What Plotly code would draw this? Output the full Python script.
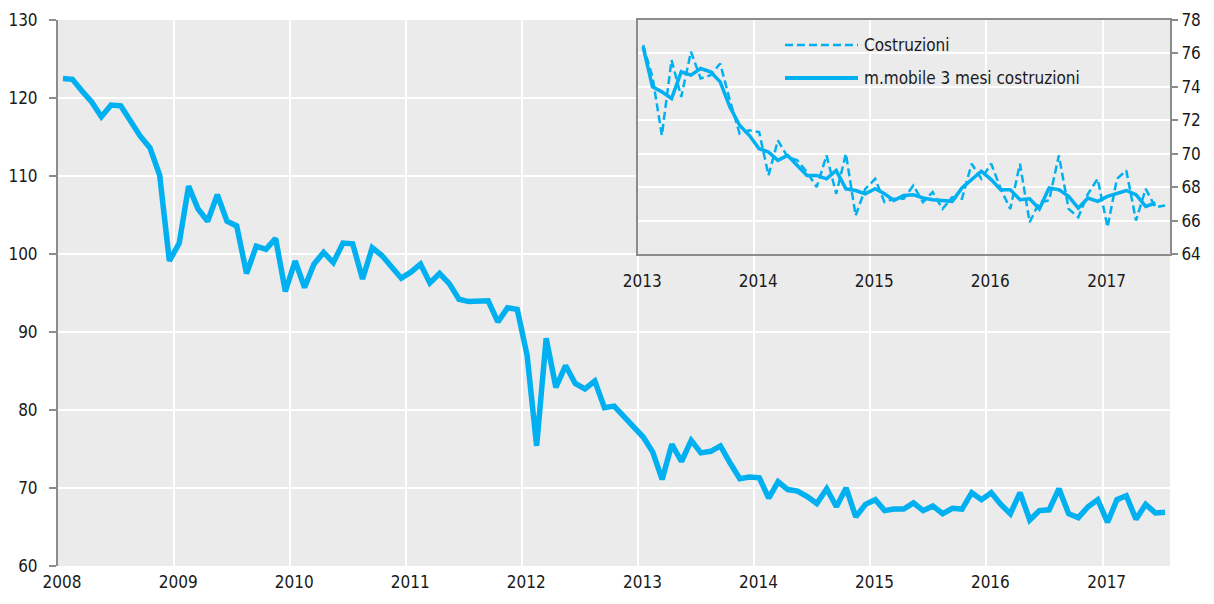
import plotly.graph_objects as go

# ---------------- data ----------------
start_year = 2008
n_months = 115  # Jan 2008 .. Jul 2017
months = [f"{start_year + k // 12}-{k % 12 + 1:02d}" for k in range(n_months)]

costruzioni = [
    122.5, 122.4, 120.9, 119.5, 117.6, 119.1, 119.0, 117.1, 115.1, 113.6, 110.1, 99.1,   # 2008
    101.4, 108.7, 105.8, 104.2, 107.6, 104.2, 103.6, 97.5, 101.0, 100.6, 102.0, 95.2,    # 2009
    99.1, 95.7, 98.7, 100.2, 98.9, 101.4, 101.3, 96.8, 100.8, 99.8, 98.3, 96.9,          # 2010
    97.7, 98.7, 96.3, 97.5, 96.2, 94.2, 93.9, 94.0, 94.0, 91.3, 93.1, 92.9,              # 2011
    87.0, 75.4, 89.2, 82.9, 85.7, 83.4, 82.7, 83.7, 80.3, 80.5, 79.1, 77.8,              # 2012
    76.5, 74.6, 71.1, 75.6, 73.4, 76.1, 74.5, 74.7, 75.4, 73.2, 71.2, 71.4,              # 2013
    71.3, 68.7, 70.8, 69.8, 69.6, 68.9, 68.0, 69.9, 67.6, 70.0, 66.3, 67.9,              # 2014
    68.5, 67.1, 67.3, 67.3, 68.1, 67.1, 67.7, 66.7, 67.4, 67.3, 69.4, 68.5,              # 2015
    69.4, 67.9, 66.7, 69.4, 65.9, 67.1, 67.2, 69.9, 66.7, 66.2, 67.6, 68.5,              # 2016
    65.6, 68.5, 69.0, 66.0, 67.9, 66.8, 66.9,                                            # 2017
]

inset_start = 60  # Jan 2013
mm3_costruzioni = [
    76.4, 74.0, 73.7, 73.3, 74.9, 74.7, 75.1, 74.9, 74.3, 72.8, 71.7, 71.1,              # 2013
    70.3, 70.1, 69.6, 69.9, 69.3, 68.7, 68.7, 68.5, 69.0, 67.9, 67.8, 67.6,              # 2014
    67.9, 67.6, 67.2, 67.5, 67.55, 67.35, 67.25, 67.2, 67.15, 67.95, 68.45, 68.95,       # 2015
    68.45, 67.85, 67.85, 67.25, 67.3, 66.7, 67.95, 67.85, 67.45, 66.75, 67.35, 67.15,    # 2016
    67.45, 67.65, 67.8, 67.55, 66.85, 67.05,                                             # 2017
]

legend_labels = ["Costruzioni", "m.mobile 3 mesi costruzioni"]

# ---------------- style ----------------
BLUE = "#00B0F0"
BG = "#EBEBEB"
AXIS = "#8C8C8C"
TXT = "#1A1A1A"
FONT = "Liberation Sans Narrow, Arial Narrow, DejaVu Sans Condensed, sans-serif"
FS = 17

fig = go.Figure()

fig.add_trace(go.Scatter(
    x=months, y=costruzioni, mode="lines",
    xperiod="M1", xperiodalignment="middle",
    line=dict(color=BLUE, width=5.5), showlegend=False,
    xaxis="x", yaxis="y",
))

fig.add_trace(go.Scatter(
    x=months[inset_start:], y=costruzioni[inset_start:], mode="lines",
    xperiod="M1", xperiodalignment="middle",
    line=dict(color=BLUE, width=2.5, dash="8px,4px"), showlegend=False,
    xaxis="x2", yaxis="y2",
))
fig.add_trace(go.Scatter(
    x=months[inset_start:inset_start + len(mm3_costruzioni)], y=mm3_costruzioni, mode="lines",
    xperiod="M1", xperiodalignment="middle",
    line=dict(color=BLUE, width=3.5), showlegend=False,
    xaxis="x2", yaxis="y2",
))

# page geometry (the html body adds an 8px offset)
OFF = 8
L, R, T, B = 58 - OFF, 1170 - OFF, 20 - OFF, 566 - OFF
W, H = 1214 - 2 * OFF, 604 - 2 * OFF
pw, ph = R - L, B - T

def px(xpage):
    return (xpage - OFF - L) / pw

def py(ypage):
    return (B - (ypage - OFF)) / ph

inset_x0 = 5 / (9 + 7 / 12)   # Jan 2013 within 2008..Aug 2017
inset_y0 = (100 - 60) / (130 - 60)

fig.update_layout(
    width=W, height=H,
    margin=dict(l=L, r=W - R, t=T, b=H - B, autoexpand=False),
    paper_bgcolor="white", plot_bgcolor=BG,
    font=dict(family=FONT, size=FS, color=TXT),
    xaxis=dict(
        type="date", range=["2008-01-01", "2017-08-01"],
        tick0="2008-01-01", dtick="M12", tickformat="%Y",
        showgrid=True, gridcolor="white", gridwidth=2,
        ticks="", showline=False, zeroline=False,
        ticklabelshift=4, ticklabelstandoff=4, automargin=False,
        domain=[0, 1],
    ),
    yaxis=dict(
        range=[60, 130], dtick=10, tick0=60,
        showgrid=True, gridcolor="white", gridwidth=2,
        ticks="outside", ticklen=7, tickcolor=AXIS, tickwidth=1.5,
        showline=True, linecolor=AXIS, linewidth=2, ticklabelstandoff=8,
        zeroline=False, domain=[0, 1], automargin=False,
    ),
    xaxis2=dict(
        type="date", range=["2013-01-01", "2017-08-01"],
        tick0="2013-01-01", dtick="M12", tickformat="%Y",
        showgrid=True, gridcolor="white", gridwidth=2,
        ticks="", showline=True, linecolor=AXIS, linewidth=2, mirror=True,
        zeroline=False, ticklabelshift=4, ticklabelstandoff=11,
        domain=[inset_x0, 1], anchor="y2", automargin=False,
    ),
    yaxis2=dict(
        range=[64, 78], dtick=2, tick0=64, side="right",
        showgrid=True, gridcolor="white", gridwidth=2,
        ticks="outside", ticklen=6, tickcolor=AXIS, tickwidth=1.5,
        showline=True, linecolor=AXIS, linewidth=2, mirror=True,
        zeroline=False, domain=[inset_y0, 1], anchor="x2", automargin=False,
    ),
    showlegend=False,
)

# reference line at 100 on the main chart
fig.add_shape(type="line", xref="paper", yref="y", x0=0, x1=1, y0=100, y1=100,
              line=dict(color=AXIS, width=2), layer="between")

# manual legend inside the inset
leg_rows = [(45, "8px,4px", 2.5), (78, "solid", 4)]
for (yrow, dash, wd), label in zip(leg_rows, legend_labels):
    fig.add_shape(type="line", xref="paper", yref="paper",
                  x0=px(785), x1=px(858), y0=py(yrow), y1=py(yrow),
                  line=dict(color=BLUE, width=wd, dash=dash), layer="above")
    fig.add_annotation(xref="paper", yref="paper", x=px(862), y=py(yrow),
                       text=label, showarrow=False, xanchor="left", yanchor="middle",
                       font=dict(family=FONT, size=FS, color=TXT))

fig.write_html("out.html")
